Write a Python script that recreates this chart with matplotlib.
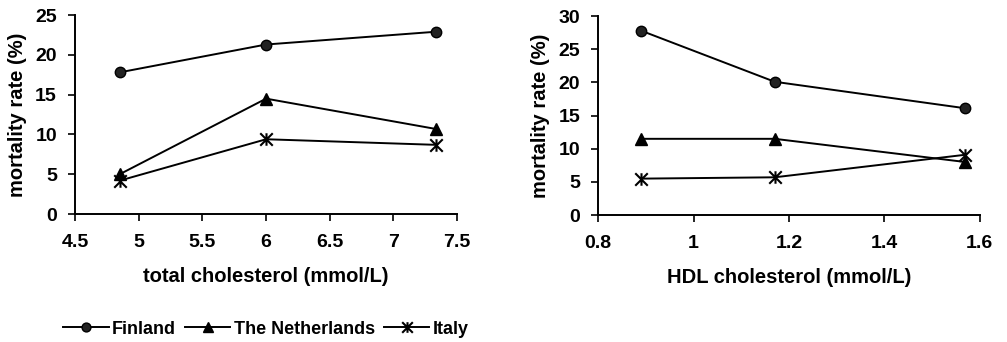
import matplotlib.pyplot as plt
import numpy as np
from matplotlib.path import Path

plt.rcParams['font.family'] = ['Liberation Sans', 'DejaVu Sans']
plt.rcParams['font.weight'] = 'bold'

# left panel: total cholesterol
tc_x = [4.85, 6.0, 7.33]
tc_finland = [17.8, 21.3, 22.9]
tc_nl = [5.0, 14.5, 10.7]
tc_italy = [4.2, 9.4, 8.7]

# right panel: HDL cholesterol
hdl_x = [0.89, 1.17, 1.57]
hdl_finland = [27.8, 20.1, 16.1]
hdl_nl = [11.5, 11.5, 8.0]
hdl_italy = [5.5, 5.7, 9.1]

labels = ['Finland', 'The Netherlands', 'Italy']

# excel style star marker: X with a vertical bar
star = Path([(-1, -1), (1, 1), (-1, 1), (1, -1), (0, -1), (0, 1)],
            [Path.MOVETO, Path.LINETO, Path.MOVETO, Path.LINETO, Path.MOVETO, Path.LINETO])

fig = plt.figure(figsize=(10.07, 3.42), dpi=100)
ax1 = fig.add_axes([0.0745, 0.374, 0.3795, 0.582])
ax2 = fig.add_axes([0.594, 0.371, 0.379, 0.582])

def style(ax):
    for s in ['top', 'right']:
        ax.spines[s].set_visible(False)
    ax.spines['left'].set_linewidth(1.4)
    ax.spines['bottom'].set_linewidth(1.4)
    ax.tick_params(axis='y', direction='out', length=5, width=1.2, labelsize=14, pad=8)
    ax.tick_params(axis='x', direction='out', length=5, width=1.2, labelsize=14, pad=9)
    ax.set_ylabel('mortality rate (%)', fontsize=14.5, fontweight='bold', labelpad=6)

lines = []
for ax, x, f, n, it in [(ax1, tc_x, tc_finland, tc_nl, tc_italy),
                        (ax2, hdl_x, hdl_finland, hdl_nl, hdl_italy)]:
    l1, = ax.plot(x, f, '-', color='black', lw=1.4, marker='o', ms=7.5, mfc='#222222', mec='black')
    l2, = ax.plot(x, n, '-', color='black', lw=1.4, marker='^', ms=8, mfc='black', mec='black')
    l3, = ax.plot(x, it, '-', color='black', lw=1.4, marker=star, ms=9, mew=1.5, mec='black')
    lines = [l1, l2, l3]
    style(ax)

ax1.set_xlim(4.5, 7.5)
ax1.set_ylim(0, 25)
ax1.set_xticks(np.arange(4.5, 7.51, 0.5))
ax1.set_xticklabels(['4.5', '5', '5.5', '6', '6.5', '7', '7.5'])
ax1.set_yticks(range(0, 26, 5))
ax1.set_xlabel('total cholesterol (mmol/L)', fontsize=14.5, fontweight='bold', labelpad=12)

ax2.set_xlim(0.8, 1.6)
ax2.set_ylim(0, 30)
ax2.set_xticks([0.8, 1.0, 1.2, 1.4, 1.6])
ax2.set_xticklabels(['0.8', '1', '1.2', '1.4', '1.6'])
ax2.set_yticks(range(0, 31, 5))
ax2.set_xlabel('HDL cholesterol (mmol/L)', fontsize=14.5, fontweight='bold', labelpad=12)

fig.legend(lines, labels, loc='center left', bbox_to_anchor=(0.063, 0.038), ncol=3,
           frameon=False, fontsize=13, handlelength=2.5, handletextpad=0.2, columnspacing=0.5,
           borderpad=0, borderaxespad=0, markerscale=0.85)

fig.savefig('out.png', dpi=100)
